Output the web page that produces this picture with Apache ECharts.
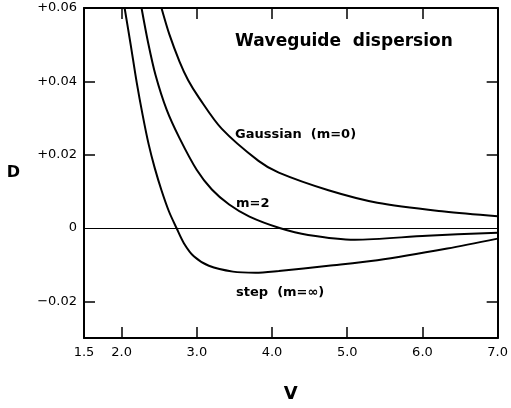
<!DOCTYPE html>
<html>
<head>
<meta charset="utf-8">
<script src="https://cdn.jsdelivr.net/npm/echarts@6/dist/echarts.min.js"></script>
<style>
  html, body { margin: 0; padding: 0; background: #fff; }
  #chart { width: 511px; height: 408px; }
</style>
</head>
<body>
<div id="chart"></div>
<script>
// V values and D values, one pair of arrays per curve
const gaussV = [2.53, 2.635, 2.77, 2.885, 3.03, 3.33, 3.82, 4.09, 4.75, 5.40, 6.29, 7.0];
const gaussD = [0.060, 0.0528, 0.0454, 0.0403, 0.0355, 0.0271, 0.0183, 0.0151, 0.0103, 0.0069, 0.0045, 0.0032];

const m2V = [2.265, 2.35, 2.45, 2.60, 2.77, 3.00, 3.20, 3.43, 3.70, 4.10, 4.48, 5.10, 6.06, 7.0];
const m2D = [0.060, 0.0508, 0.0418, 0.0322, 0.0245, 0.0158, 0.0105, 0.0064, 0.0031, 0.0, -0.0019, -0.0032, -0.0021, -0.0013];

const stepV = [2.04, 2.12, 2.20, 2.28, 2.36, 2.44, 2.53, 2.63, 2.73, 2.83, 2.96, 3.16, 3.48, 3.78, 4.09, 4.75, 5.40, 6.33, 7.0];
const stepD = [0.060, 0.0501, 0.0398, 0.0308, 0.0228, 0.0164, 0.0103, 0.0045, 0.0, -0.0042, -0.0077, -0.0103, -0.0119, -0.0122, -0.0117, -0.0103, -0.0088, -0.0056, -0.0029];

const xTicks = [2, 3, 4, 5, 6];
const xLabels = [1.5, 2, 3, 4, 5, 6, 7];
const yTicks = [-0.02, 0.02, 0.04];
const yLabels = [-0.02, 0, 0.02, 0.04, 0.06];

const FONT = '"DejaVu Sans", sans-serif';
const black = '#000';

const pairs = (xs, ys) => xs.map((x, i) => [x, ys[i]]);
const fmtY = v => (v === 0 ? '0' : v > 0 ? '+' + v.toFixed(2) : '\u2212' + Math.abs(v).toFixed(2));

const chart = echarts.init(document.getElementById('chart'), null, { renderer: 'canvas' });

function xAxisCfg(pos, withLabels) {
  return {
    type: 'value', position: pos, min: 1.5, max: 7,
    axisLine: { show: true, onZero: false, lineStyle: { color: black, width: 2 } },
    axisTick: { show: true, inside: true, length: 11, customValues: xTicks, lineStyle: { color: black, width: 1.5 } },
    axisLabel: withLabels
      ? { show: true, customValues: xLabels, formatter: v => v.toFixed(1), margin: 8,
          color: black, fontFamily: FONT, fontSize: 13 }
      : { show: false },
    splitLine: { show: false },
    name: withLabels ? 'V' : '',
    nameLocation: 'middle', nameGap: 47,
    nameTextStyle: { color: black, fontFamily: FONT, fontSize: 18, fontWeight: 'bold' }
  };
}

function yAxisCfg(pos, withLabels) {
  return {
    type: 'value', position: pos, min: -0.03, max: 0.06,
    axisLine: { show: true, onZero: false, lineStyle: { color: black, width: 2 } },
    axisTick: { show: true, inside: true, length: 11, customValues: yTicks, lineStyle: { color: black, width: 1.5 } },
    axisLabel: withLabels
      ? { show: true, customValues: yLabels, formatter: fmtY, margin: 7,
          color: black, fontFamily: FONT, fontSize: 13 }
      : { show: false },
    splitLine: { show: false },
    name: withLabels ? 'D' : '',
    nameLocation: 'middle', nameGap: 64, nameRotate: 0,
    nameTextStyle: { color: black, fontFamily: FONT, fontSize: 16, fontWeight: 'bold' }
  };
}

const lineSeries = (name, data) => ({
  name, type: 'line', data,
  showSymbol: false, smooth: 0.3,
  lineStyle: { color: black, width: 2 },
  silent: true
});

const labelText = (text, x, y, size) => ({
  type: 'text', silent: true,
  style: { x, y, text, fill: black, font: `bold ${size}px ${FONT}`, textVerticalAlign: 'middle' }
});

chart.setOption({
  animation: false,
  backgroundColor: '#fff',
  grid: { left: 84, right: 10, top: 8, bottom: 62, containLabel: false },
  xAxis: [xAxisCfg('bottom', true), xAxisCfg('top', false)],
  yAxis: [yAxisCfg('left', true), yAxisCfg('right', false)],
  series: [
    Object.assign(lineSeries('Gaussian (m=0)', pairs(gaussV, gaussD)), {
      markLine: {
        silent: true, symbol: 'none', label: { show: false },
        lineStyle: { color: black, width: 1, type: 'solid' },
        data: [{ yAxis: 0 }]
      }
    }),
    lineSeries('m=2', pairs(m2V, m2D)),
    lineSeries('step (m=\u221E)', pairs(stepV, stepD))
  ],
  graphic: [
    labelText('Waveguide  dispersion', 235, 42, 17),
    labelText('Gaussian  (m=0)', 235, 135, 13),
    labelText('m=2', 236, 204, 13),
    labelText('step  (m=\u221E)', 236, 293, 13)
  ]
});
</script>
</body>
</html>
